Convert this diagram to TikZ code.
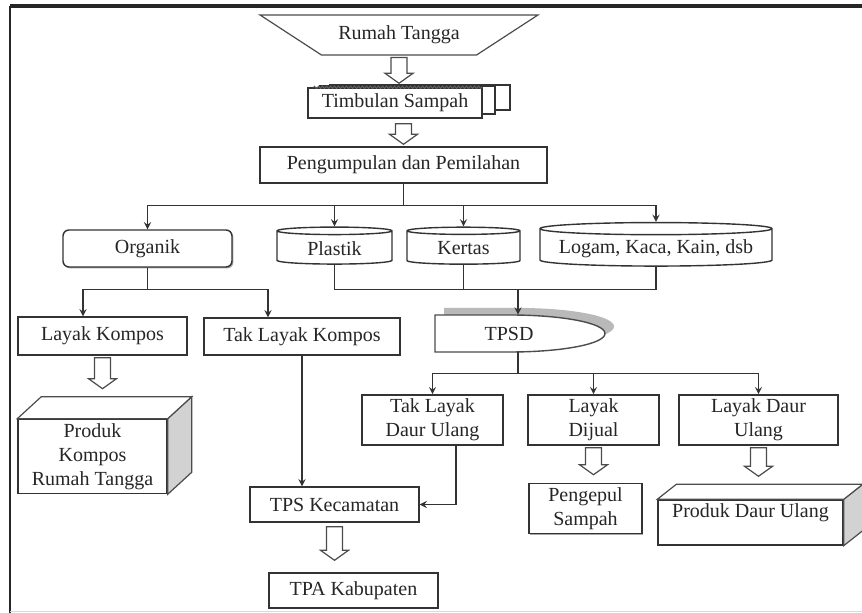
\documentclass[tikz,border=0pt]{standalone}
\usepackage{fontspec}
\setmainfont{Liberation Serif}
\usetikzlibrary{calc}
\usetikzlibrary{shapes.geometric}
\usetikzlibrary{shadows}
\usetikzlibrary{decorations.pathmorphing}
\tikzset{%
  line/.style = {-stealth, draw=black!80, line width=0.6pt},
  link/.style = {draw=black!80, line width=0.6pt},
  hollow/.style = {draw=black!70, fill=white, line width=0.6pt},
  plain/.style = {rectangle, draw=black!80, fill=white, line width=0.7pt,
        minimum height=18.5pt, inner sep=2pt, text=black!85},
  b/.style = {plain, drop shadow={shadow xshift=0.7pt,
        shadow yshift=-0.7pt, fill=gray!70, opacity=1}},
  rb/.style = {b, rounded corners=3pt},
  can/.style = {cylinder, shape border rotate=90, draw=black!80,
        fill=white, line width=0.7pt, minimum height=18.5pt,
        inner sep=2pt, text=black!85}
}
% hollow block arrow from #1 down to #2
\newcommand{\hollowarrow}[2]{%
  \draw[hollow] ($#1+(-8,0)$) -- ($#1+(8,0)$) -- ($#2+(8,-10)$)
    -- ($#2+(14,-10)$) -- #2 -- ($#2+(-14,-10)$) -- ($#2+(-8,-10)$) -- cycle;}
% top and side of a box drawn in 3D
\newcommand{\cubeface}[3]{%
  \draw[hollow, fill=gray!35] (#1.north east) -- ++(#2,#3)
    -- ($(#1.south east)+(#2,#3)$) -- (#1.south east) -- cycle;
  \draw[hollow] (#1.north west) -- ++(#2,#3)
    -- ($(#1.north east)+(#2,#3)$) -- (#1.north east) -- cycle;}

\begin{document}
\begin{tikzpicture}[x=0.5pt, y=-0.5pt]
  \useasboundingbox (0,0) rectangle (862,613);
  % frame
  \draw[line width=2pt, black!85] (10,6) -- (862,6);
  \draw[line width=0.8pt, black!85] (10,6) -- (10,613);
  \draw[gray!30] (10,611) -- (862,611);

  % top of the chain
  \node[trapezium, trapezium stretches=true, shape border rotate=180,
        trapezium left angle=30.6, trapezium right angle=30.6,
        minimum width=139pt, minimum height=20pt, draw=black!70,
        line width=0.6pt, text=black!85] (rumah) at (399,35) {Rumah Tangga};
  \draw[plain] (330,85) rectangle (510,110);
  \draw[plain] (320,86) rectangle (495,114);
  \node[b, minimum width=87pt, minimum height=15pt] (timb) at (395,103) {Timbulan Sampah};
  \draw[decorate, decoration={snake, amplitude=0.6pt, segment length=2pt},
        black!60] ([xshift=3pt]timb.north west) -- (timb.north east);
  \node[b, minimum width=143.5pt, minimum height=18pt] (peng) at (403.5,165) {Pengumpulan dan Pemilahan};

  \hollowarrow{([yshift=-1pt]rumah.south)}{([yshift=2pt]rumah.south |- timb.north)}
  \hollowarrow{([yshift=-2.5pt]peng.north |- timb.south)}{([yshift=1pt]peng.north)}

  % sorting
  \node[rb, minimum width=84.5pt] (org) at (147.5,248.5) {Organik};
  \node[can, aspect=0.12, minimum width=57.5pt] (plas) at (334.5,248.5) {Plastik};
  \node[can, aspect=0.12, minimum width=56.5pt] (kert) at (463.5,248.5) {Kertas};
  \node[can, aspect=0.06, minimum width=116pt] (logam) at (656,248.5) {Logam, Kaca, Kain, dsb};

  \coordinate (sp1) at ($(peng.south)+(0,22)$);
  \draw[link] (peng.south) -- (sp1);
  \draw[line] (sp1) -| (org.north);
  \draw[line] (sp1) -| (plas.north);
  \draw[line] (sp1) -| (kert.north);
  \draw[line] (sp1) -| (logam.north);

  % organik branch
  \node[b, minimum width=84.5pt, minimum height=19pt] (lk) at (102.5,336) {Layak Kompos};
  \node[b, minimum width=98pt] (tlk) at (302,336.5) {Tak Layak Kompos};
  \coordinate (sp3) at ($(org.south)+(0,22)$);
  \draw[link] (org.south) -- (sp3);
  \draw[line] (sp3) -| ([xshift=-9.75pt]lk.north);
  \draw[line] (sp3) -| ([xshift=-17pt]tlk.north);

  \node[plain, minimum width=74.5pt, minimum height=31.5pt, align=center] (pk) at (92.5,456.5)
        {Produk\\Kompos\\Rumah Tangga};
  \cubeface{pk}{24}{-22}
  \hollowarrow{([yshift=-1pt]lk.south)}{([yshift=15pt]lk.south |- pk.north)}

  % TPSD
  \fill[gray!55] (444,308) -- (519,308) .. controls (571,308) and (614,316) .. (614,326.5)
        .. controls (614,337) and (571,345) .. (519,345) -- (444,345) -- cycle;
  \draw[hollow, line width=0.7pt] (435,315) -- (510,315) .. controls (562,315) and (605,323) .. (605,333.5)
        .. controls (605,344) and (562,352) .. (510,352) -- (435,352) -- cycle;
  \node[minimum width=74pt, minimum height=18.5pt, inner sep=0pt, text=black!85] (tpsd) at (509,333.5) {TPSD};

  \coordinate (j1) at ($(plas.south)+(0,25)$);
  \draw[link] (plas.south) -- (j1) -| (logam.south);
  \draw[link] (kert.south) -- (kert.south |- j1);
  \draw[line] ([xshift=4.5pt]tpsd.north |- j1) -- ([xshift=4.5pt]tpsd.north);

  % TPSD branch
  \node[b, minimum width=70.5pt, minimum height=23pt, align=center] (tldu) at (432.5,420) {Tak Layak\\Daur Ulang};
  \node[b, minimum width=65.5pt, minimum height=23pt, align=center] (ldj) at (593.5,420) {Layak\\Dijual};
  \node[b, minimum width=79.5pt, minimum height=23pt, align=center] (ldu) at (758.5,420) {Layak Daur\\Ulang};
  \coordinate (sp2) at ($(tpsd.south)+(9,21)$);
  \draw[link] ([xshift=4.5pt]tpsd.south) -- (sp2);
  \draw[line] (sp2) -| (tldu.north);
  \draw[line] (sp2) -| (ldj.north);
  \draw[line] (sp2) -| (ldu.north);

  \node[b, minimum width=56.5pt, minimum height=23.5pt, align=center] (pgp) at (585.5,508.5) {Pengepul\\Sampah};
  \hollowarrow{([yshift=-1pt]ldj.south)}{([yshift=4pt]ldj.south |- pgp.north)}

  \node[plain, minimum width=92.5pt, minimum height=22.5pt] (pdu) at (750.5,522.5)
        {\raisebox{4.75pt}[\height][\depth]{Produk Daur Ulang}};
  \cubeface{pdu}{19}{-15}
  \hollowarrow{([yshift=-1pt]ldu.south)}{([yshift=11.5pt]ldu.south |- pdu.north)}

  % to the landfill
  \node[b, minimum width=84.5pt, minimum height=17.5pt] (tps) at (334.5,504.5) {TPS Kecamatan};
  \node[b, minimum width=84.5pt, minimum height=17.5pt] (tpa) at (353.5,590.5) {TPA Kabupaten};
  \draw[line] (tlk.south) -- (tlk.south |- tps.north);
  \draw[line] ([xshift=11.75pt]tldu.south) |- (tps.east);
  \hollowarrow{([yshift=-2pt]tps.south)}{([yshift=6pt]tps.south |- tpa.north)}
\end{tikzpicture}
\end{document}
